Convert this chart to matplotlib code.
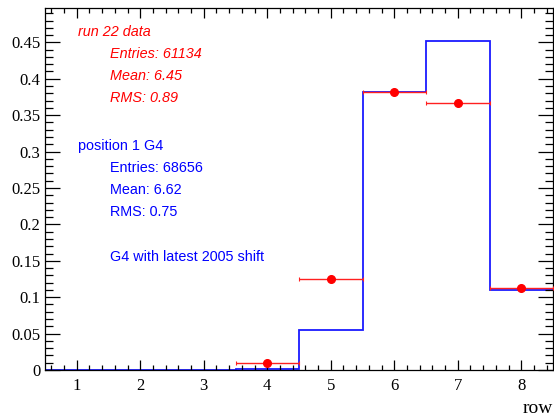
import numpy as np
import matplotlib.pyplot as plt
from matplotlib.ticker import MultipleLocator, FuncFormatter

# ── histogram contents ──────────────────────────────────────────────────────
bin_edges = [0.5, 1.5, 2.5, 3.5, 4.5, 5.5, 6.5, 7.5, 8.5]
g4_values = [0.0, 0.0, 0.0, 0.002, 0.055, 0.382, 0.452, 0.110]       # position 1 G4
data_rows = [4, 5, 6, 7, 8]
data_values = [0.009, 0.125, 0.382, 0.367, 0.112]                    # run 22 data
data_xerr = [0.5, 0.5, 0.5, 0.5, 0.5]

red_lines = ["Entries: 61134", "Mean: 6.45", "RMS: 0.89"]
blue_lines = ["Entries: 68656", "Mean: 6.62", "RMS: 0.75"]

W, H = 554, 417
fig = plt.figure(figsize=(W / 100, H / 100), dpi=100)
ax = fig.add_axes([45 / W, (H - 370) / H, (553 - 45) / W, (370 - 8) / H])

# G4 histogram as step line
ax.stairs(g4_values, bin_edges, color="#1a1aff", linewidth=1.3, baseline=None)

# data points with horizontal bin-width error bars
ax.errorbar(data_rows, data_values, xerr=data_xerr, fmt="o", color="red",
            markersize=5.5, elinewidth=1.0, capsize=1.5, capthick=0.8,
            ecolor="#ff2020", zorder=3)

ax.set_xlim(0.5, 8.5)
ax.set_ylim(0, 0.4972)

ax.xaxis.set_major_locator(MultipleLocator(1))
ax.xaxis.set_minor_locator(MultipleLocator(0.2))
ax.yaxis.set_major_locator(MultipleLocator(0.05))
ax.yaxis.set_minor_locator(MultipleLocator(0.01))
ax.yaxis.set_major_formatter(FuncFormatter(lambda v, p: f"{v:g}" if abs(v) > 1e-9 else "0"))

ax.tick_params(axis="both", which="both", direction="in", top=True, right=True,
               colors="black", width=0.9)
ax.tick_params(axis="y", which="major", length=11)
ax.tick_params(axis="y", which="minor", length=5.5)
ax.tick_params(axis="x", which="major", length=7.5, pad=6)
ax.tick_params(axis="x", which="minor", length=3.8)
for lab in ax.get_xticklabels() + ax.get_yticklabels():
    lab.set_fontfamily("Liberation Serif")
    lab.set_fontsize(12)

for sp in ax.spines.values():
    sp.set_linewidth(0.9)

ax.set_xlabel("row", loc="right", fontfamily="Liberation Serif", fontsize=14,
              labelpad=4)

# stats text boxes
tf = dict(fontfamily="Liberation Sans", fontsize=10.4, transform=fig.transFigure,
          va="center", ha="left")
def put(x, y, s, **kw):
    ax.text(x / W, 1 - y / H, s, **tf, **kw)

put(78, 32, "run 22 data", color="red", style="italic")
for i, s in enumerate(red_lines):
    put(110, 54 + i * 22, s, color="red", style="italic")
put(78, 146, "position 1 G4", color="blue")
for i, s in enumerate(blue_lines):
    put(110, 168 + i * 22, s, color="blue")
put(110, 257, "G4 with latest 2005 shift", color="blue")

fig.savefig("out.png", dpi=100)
